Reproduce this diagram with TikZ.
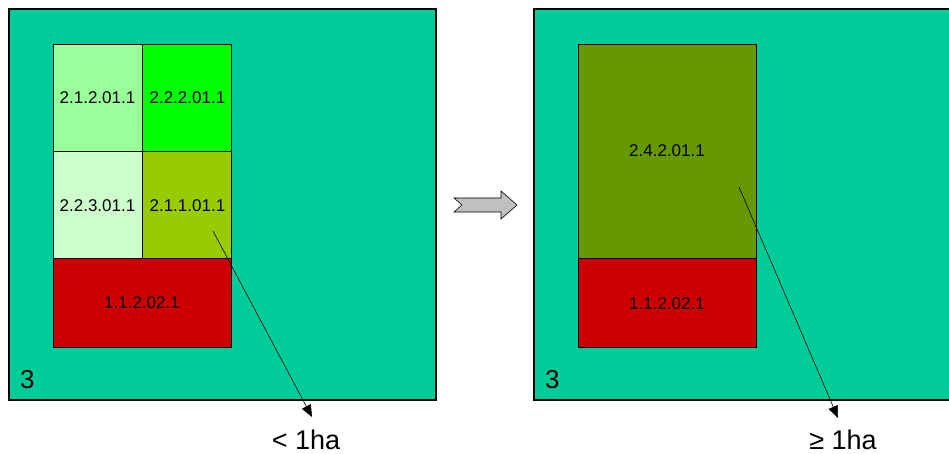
\documentclass[tikz,border=0pt]{standalone}
\usepackage{fontspec}
\setmainfont{Liberation Sans}
\usetikzlibrary{positioning,arrows.meta}

\definecolor{field}{HTML}{00CC99}
\definecolor{paleA}{HTML}{99FF99}
\definecolor{brightA}{HTML}{00FF00}
\definecolor{paleB}{HTML}{CCFFCC}
\definecolor{limeA}{HTML}{99CC00}
\definecolor{oliveA}{HTML}{669900}
\definecolor{redA}{HTML}{CC0000}
\definecolor{shaft}{HTML}{C0C0C0}

\begin{document}
\begin{tikzpicture}[
    x=1pt, y=-1pt,
    panel/.style = {draw, line width=1.3pt, fill=field, inner sep=0pt},
    cell/.style = {draw, line width=0.9pt, inner sep=0pt, minimum width=89pt,
                   minimum height=107pt, font=\fontsize{17}{17}\selectfont},
    corner/.style = {anchor=base west, inner sep=0pt, font=\fontsize{26}{26}\selectfont},
    size/.style = {anchor=base, inner sep=0pt, font=\fontsize{27}{27}\selectfont},
    pointer/.style = {-{Triangle[length=12pt,width=10pt]}, line width=0.6pt}
]
    \useasboundingbox (0,0) rectangle (949,454);

    % Panels
    \node[panel, minimum width=427pt, minimum height=391pt] (before) at (222.5,204.5) {};
    \node[panel, minimum width=417pt, minimum height=391pt] (after) at (742.5,204.5) {};

    % Left panel cells
    \node[cell, fill=paleA] (c2122) at (97.5,97.5) {2.1.2.01.1};
    \node[cell, fill=brightA] (c2222) [right=0pt of c2122] {2.2.2.01.1};
    \node[cell, fill=paleB] (c2232) [below=0pt of c2122] {2.2.3.01.1};
    \node[cell, fill=limeA] (c2112) [right=0pt of c2232] {2.1.1.01.1};
    \node[cell, fill=redA, minimum width=178pt, minimum height=89pt] (c1122)
        at (142,302.5) {1.1.2.02.1};

    % Right panel cells
    \node[cell, fill=oliveA, minimum width=178pt, minimum height=214pt] (c2422)
        at (667,151) {2.4.2.01.1};
    \node[cell, fill=redA, minimum width=178pt, minimum height=89pt] (r1122)
        [below=0pt of c2422] {1.1.2.02.1};

    % Labels
    \node[corner] (numA) at (20,388) {3};
    \node[corner] (numB) at (545,388) {3};
    \node[size] (small) at (306,449) {< 1ha};
    \node[size] (large) at (843,449) {≥ 1ha};

    % Block arrow
    \draw[fill=shaft, line width=0.6pt] (454,198) -- (501,198) -- (501,191) -- (517,205)
        -- (501,219) -- (501,212) -- (454,212) -- (462,205) -- cycle;

    % Pointers
    \coordinate (fromA) at (213,231);
    \coordinate (toA) at (312,417);
    \coordinate (fromB) at (739,187);
    \coordinate (toB) at (838,418);
    \draw[pointer] (fromA) -- (toA);
    \draw[pointer] (fromB) -- (toB);

\end{tikzpicture}
\end{document}
